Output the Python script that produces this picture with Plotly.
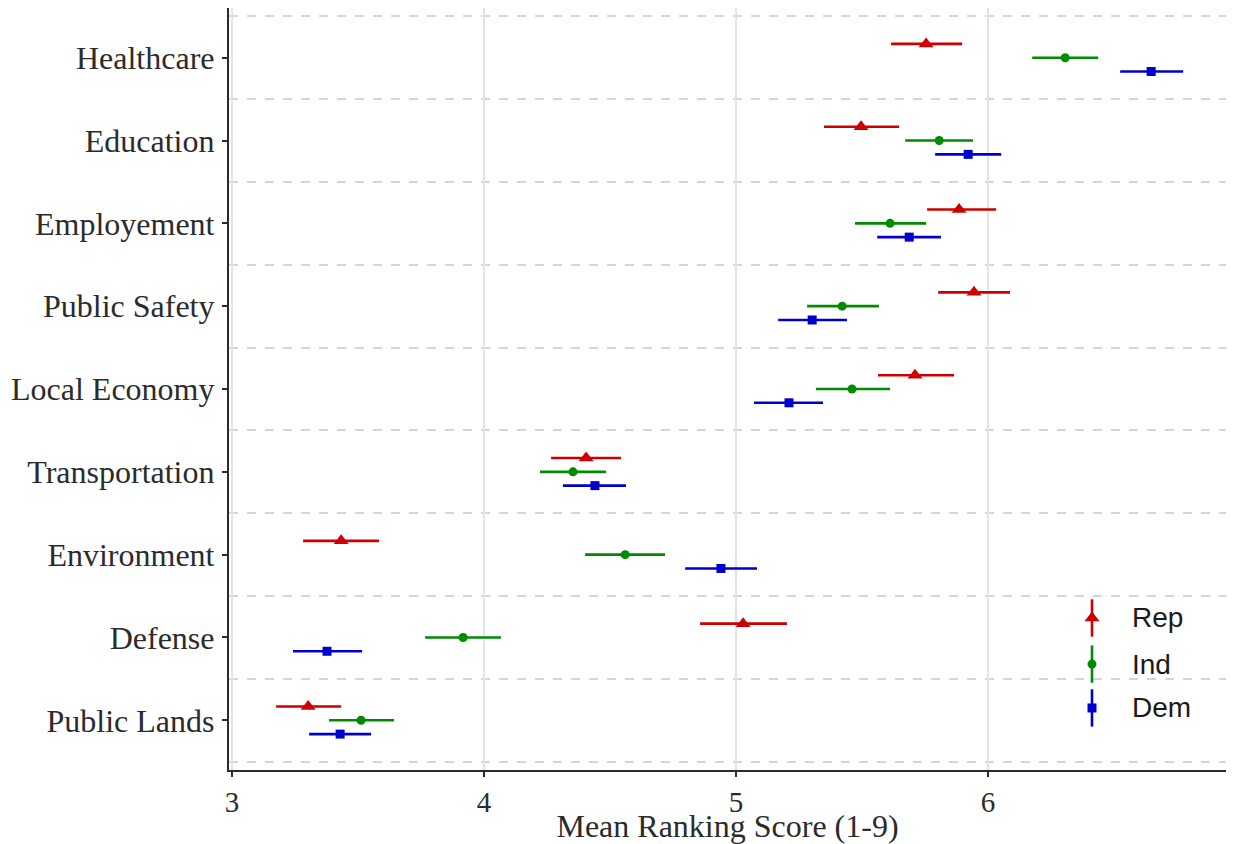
import plotly.graph_objects as go

categories = ["Healthcare", "Education", "Employement", "Public Safety", "Local Economy",
              "Transportation", "Environment", "Defense", "Public Lands"]

parties = ["Rep", "Ind", "Dem"]

rep_mean = [5.754, 5.496, 5.885, 5.944, 5.710, 4.405, 3.433, 5.028, 3.302]
rep_low  = [5.615, 5.349, 5.758, 5.802, 5.563, 4.266, 3.282, 4.857, 3.175]
rep_high = [5.897, 5.647, 6.032, 6.087, 5.865, 4.544, 3.583, 5.202, 3.433]

ind_mean = [6.306, 5.806, 5.611, 5.421, 5.460, 4.353, 4.560, 3.917, 3.512]
ind_low  = [6.175, 5.671, 5.472, 5.282, 5.317, 4.222, 4.401, 3.766, 3.385]
ind_high = [6.437, 5.940, 5.754, 5.567, 5.611, 4.484, 4.718, 4.067, 3.643]

dem_mean = [6.647, 5.921, 5.687, 5.302, 5.210, 4.440, 4.940, 3.377, 3.429]
dem_low  = [6.524, 5.790, 5.560, 5.167, 5.071, 4.313, 4.798, 3.242, 3.306]
dem_high = [6.774, 6.052, 5.813, 5.440, 5.345, 4.563, 5.083, 3.516, 3.552]

x_ticks = [3, 4, 5, 6]
x_title = "Mean Ranking Score (1-9)"

series = {
    "Rep": (rep_mean, rep_low, rep_high),
    "Ind": (ind_mean, ind_low, ind_high),
    "Dem": (dem_mean, dem_low, dem_high),
}
colors = {"Rep": "#CC0000", "Ind": "#008B00", "Dem": "#0000CC"}
symbols = {"Rep": "triangle-up", "Ind": "circle", "Dem": "square"}
msizes = {"Rep": 13, "Ind": 9, "Dem": 9}
dodge = {"Rep": 1 / 6, "Ind": 0.0, "Dem": -1 / 6}

n = len(categories)
base_y = [n - 1 - i for i in range(n)]

fig = go.Figure()

for p in parties:
    mean, low, high = series[p]
    fig.add_trace(go.Scatter(
        x=mean,
        y=[b + dodge[p] for b in base_y],
        mode="markers",
        name=p,
        marker=dict(symbol=symbols[p], size=msizes[p], color=colors[p], line=dict(width=0)),
        error_x=dict(type="data", symmetric=False,
                     array=[h - m for h, m in zip(high, mean)],
                     arrayminus=[m - l for m, l in zip(mean, low)],
                     width=0, thickness=2.6, color=colors[p]),
        showlegend=False,
    ))

# custom legend (ggplot style keys with vertical line) on overlay axis
leg_x_key = 0.8656
leg_x_text = 0.904
leg_rows = [0.1995, 0.139, 0.0814]
for i, p in enumerate(parties):
    fig.add_trace(go.Scatter(
        x=[leg_x_key], y=[leg_rows[i]],
        xaxis="x2", yaxis="y2",
        mode="markers",
        marker=dict(symbol=symbols[p], size=msizes[p], color=colors[p], line=dict(width=0)),
        error_y=dict(type="constant", value=0.0245, width=0, thickness=2.6, color=colors[p]),
        showlegend=False, hoverinfo="skip",
    ))
    fig.add_annotation(
        x=leg_x_text, y=leg_rows[i], xref="x2", yref="y2",
        text=p, showarrow=False, xanchor="left", yanchor="middle",
        font=dict(family="Liberation Sans, Arial, sans-serif", size=28, color="#1a1a1a"),
    )

serif = "Liberation Serif, Times New Roman, serif"

fig.update_layout(
    width=1233, height=844,
    margin=dict(l=229, r=7, t=8, b=74),
    plot_bgcolor="white", paper_bgcolor="white",
    showlegend=False,
    font=dict(family=serif, size=32, color="#2b2b2b"),
    xaxis=dict(
        range=[2.988, 6.944],
        tickvals=x_ticks, ticktext=[str(t) for t in x_ticks],
        showgrid=True, gridcolor="#E3E3E3", gridwidth=2,
        zeroline=False, automargin=False,
        showline=True, linecolor="#2b2b2b", linewidth=2.2,
        ticks="outside", ticklen=5, tickwidth=2, tickcolor="#2b2b2b",
        tickfont=dict(family=serif, size=29, color="#2b2b2b"),
        title=dict(text=x_title, standoff=4,
                   font=dict(family=serif, size=32, color="#2b2b2b")),
    ),
    yaxis=dict(
        range=[-0.6, 8.6],
        tickmode="array", tickvals=base_y, ticktext=categories,
        showgrid=False, zeroline=False, automargin=False,
        showline=True, linecolor="#2b2b2b", linewidth=2.2,
        ticks="outside", ticklen=5, tickwidth=2, tickcolor="#2b2b2b",
        tickfont=dict(family=serif, size=32, color="#2b2b2b"),
        ticklabelstandoff=1,
        minor=dict(tickmode="array", tickvals=[k - 0.5 for k in range(n + 1)],
                   showgrid=True, gridcolor="#D6D6D6", gridwidth=2, griddash="dash", ticks=""),
    ),
    xaxis2=dict(range=[0, 1], overlaying="x", visible=False, fixedrange=True),
    yaxis2=dict(range=[0, 1], overlaying="y", visible=False, fixedrange=True),
)

fig.write_html("out.html")
